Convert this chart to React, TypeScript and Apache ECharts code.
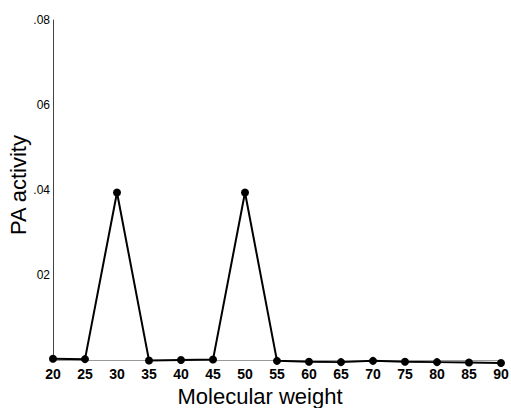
import React, { useEffect, useRef } from "react";
import * as echarts from "echarts";

const molecularWeights = [20, 25, 30, 35, 40, 45, 50, 55, 60, 65, 70, 75, 80, 85, 90];
const paActivity = [0.0003, 0.0002, 0.0394, -0.0001, 0, 0.0001, 0.0394, -0.0002, -0.0004, -0.0005, -0.0002, -0.0004, -0.0005, -0.0006, -0.0007];
const yTickValues = [0.02, 0.04, 0.06, 0.08];
const yTickLabels = ["02", ".04", "06", ".08"];

export default function App() {
  const ref = useRef<HTMLDivElement>(null);
  useEffect(() => {
    if (!ref.current) return;
    const chart = echarts.init(ref.current, null, { renderer: "svg" });
    chart.setOption({
      animation: false,
      backgroundColor: "#fff",
      grid: { left: 53, right: 10, top: 20, bottom: 48, containLabel: false, outerBoundsMode: "none" },
      xAxis: {
        type: "value",
        min: 20,
        max: 90,
        interval: 5,
        name: "Molecular weight",
        nameLocation: "middle",
        nameGap: 25,
        nameMoveOverlap: false,
        nameTextStyle: { fontFamily: "Liberation Sans", fontSize: 22, color: "#000", padding: [0, 34, 0, 0] },
        axisLine: { lineStyle: { color: "#999", width: 1 } },
        axisTick: { show: false },
        splitLine: { show: false },
        axisLabel: {
          margin: 7,
          fontFamily: "Liberation Sans",
          fontSize: 14,
          fontWeight: "bold",
          color: "#000",
        },
      },
      yAxis: {
        type: "value",
        min: 0,
        max: 0.08,
        interval: 0.02,
        name: "PA activity",
        nameLocation: "middle",
        nameGap: 24,
        nameMoveOverlap: false,
        nameTextStyle: { fontFamily: "Liberation Sans", fontSize: 22, color: "#000", padding: [0, 0, 0, 10] },
        axisLine: { show: true, lineStyle: { color: "#444", width: 1 } },
        axisTick: { show: false },
        splitLine: { show: false },
        axisLabel: {
          margin: 3,
          fontFamily: "Liberation Sans",
          fontSize: 12,
          color: "#000",
          formatter: (v: number) => {
            const i = yTickValues.findIndex((t) => Math.abs(t - v) < 1e-9);
            return i >= 0 ? yTickLabels[i] : "";
          },
        },
      },
      series: [
        {
          type: "line",
          clip: false,
          data: molecularWeights.map((x, i) => [x, paActivity[i]]),
          symbol: "circle",
          symbolSize: 8,
          lineStyle: { color: "#000", width: 2 },
          itemStyle: { color: "#000" },
        },
      ],
    });
    return () => chart.dispose();
  }, []);
  return <div ref={ref} style={{ width: 511, height: 408, position: "absolute", left: 0, top: 0 }} />;
}
